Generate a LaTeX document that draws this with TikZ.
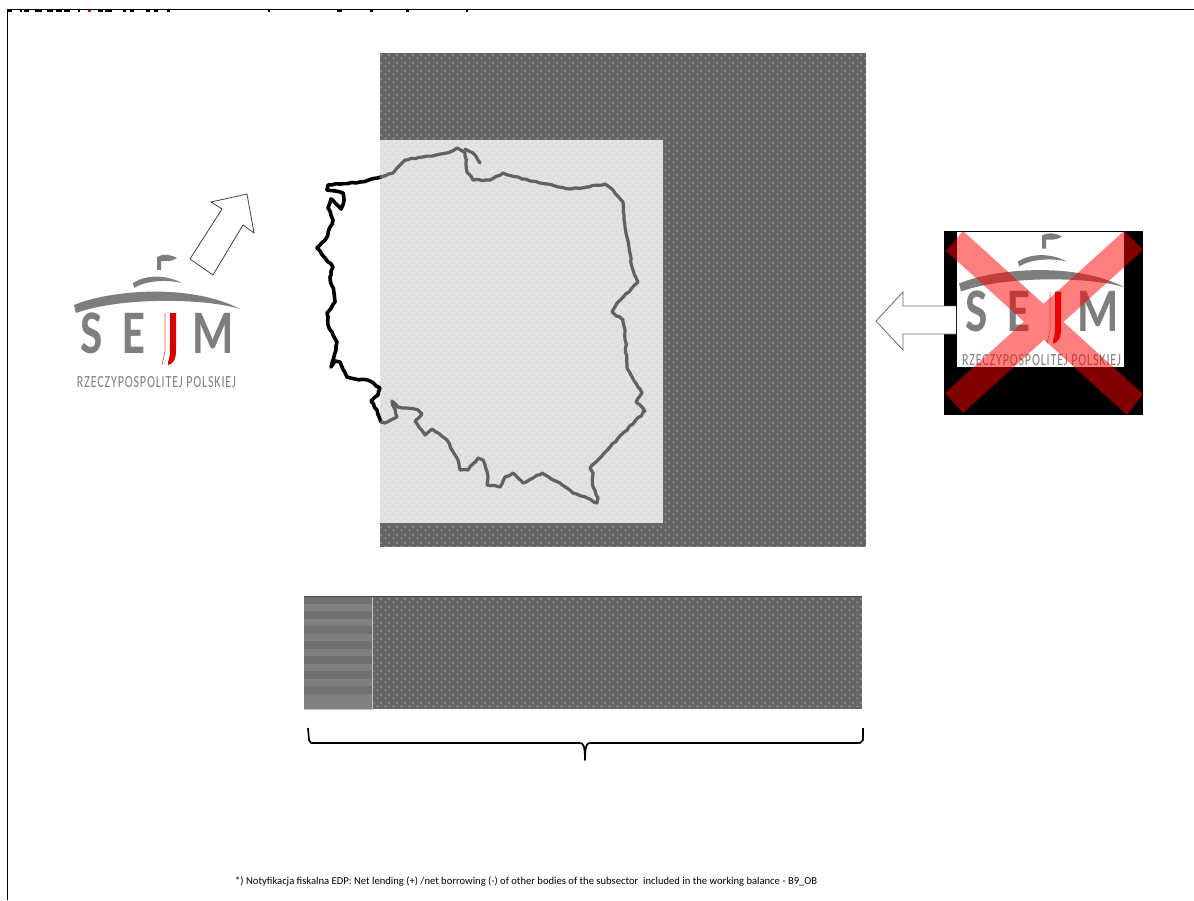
\documentclass[tikz,border=0pt]{standalone}
\usepackage{fontspec}
\usepackage{graphicx}
\setmainfont{Carlito}
\newfontfamily\capfont[LetterSpace=7]{Carlito}
\usetikzlibrary{patterns,decorations.pathmorphing}
\pgfdeclarepatternformonly{sdots}{\pgfqpoint{0pt}{0pt}}{\pgfqpoint{8pt}{8pt}}{\pgfqpoint{8pt}{8pt}}{%
  \pgfpathrectangle{\pgfqpoint{1pt}{1pt}}{\pgfqpoint{1.3pt}{1.3pt}}%
  \pgfpathrectangle{\pgfqpoint{5pt}{5pt}}{\pgfqpoint{1.3pt}{1.3pt}}%
  \pgfusepath{fill}}
\definecolor{dk}{HTML}{666666}
\definecolor{lt}{HTML}{E2E2E2}
\definecolor{logog}{HTML}{7E7E7E}
\pgfmathsetseed{7}
\tikzset{
  darkarea/.style={fill=dk,postaction={pattern=sdots,pattern color=black!28}},
  lightarea/.style={fill=lt,postaction={pattern=sdots,pattern color=black!20}},
  blockarrow/.style={fill=white,draw=black!75,line width=.8pt,line join=miter},
  rough/.style={decorate,decoration={random steps,segment length=4pt,amplitude=.7pt}},
  outlineblack/.style={draw=black,line width=3.6pt,line join=round,line cap=round,rough},
  outlinegray/.style={draw=black!62,line width=3.2pt,line join=round,line cap=round,rough},
  logotext/.style={text=logog,inner sep=0pt,anchor=base,font=\fontsize{62}{62}\selectfont\bfseries},
  framerule/.style={draw=black,line width=1pt},
  bracerule/.style={draw=black,line width=1.7pt,line join=round}
}
\newcommand{\sejmlogo}{%
  \fill[logog] (74,305) .. controls (110,290) and (190,283) .. (240,309) .. controls (205,298) and (120,297) .. (76,313) -- cycle;
  \fill[logog] (133,283) .. controls (145,275) and (165,274) .. (182,283) .. controls (165,279) and (145,281) .. (134,288) -- cycle;
  \fill[logog] (157,257) .. controls (163,253) and (172,255) .. (177,258) .. controls (172,262) and (165,261) .. (161,261) -- (161,270) -- (157,270) -- cycle;
  \node[logotext] (S) at (92,353) {\scalebox{.76}[1]{S}};
  \node[logotext] (E) at (134,353) {\scalebox{.76}[1]{E}};
  \node[logotext] (M) at (213,353) {\scalebox{.76}[1]{M}};
  \fill[red!85!black] (170,313) -- (176,313) -- (176,350) .. controls (176,360) and (173,364) .. (168,365) -- (168,362) .. controls (170,358) and (170,352) .. (170,345) -- cycle;
  \draw[red!70,line width=.7pt] (165,313) -- (165,352) -- (162,365);
  \node[inner sep=0pt,text=logog] (cap) at (156.5,382) {\resizebox{159pt}{11pt}{\capfont RZECZYPOSPOLITEJ POLSKIEJ}};
}
\begin{document}
\begin{tikzpicture}[x=1pt,y=-1pt]
\useasboundingbox (0,0) rectangle (1194,900);
\fill[white] (0,0) rectangle (1194,900);
% clipped heading fragments and frame
\foreach \a/\b in {8/12,20/22,24/29,35/42,47/53,56/62,64/70,78/80,98/103,105/112,123/126,130/134,146/150,154/158,167/170,268/270,337/342,370/373,406/409,466/468}
  \fill[black] (\a,10) rectangle (\b,12);
\fill[red] (88,10) rectangle (91,12);
\draw[framerule] (1194,9.5) -- (7.5,9.5) -- (7.5,900);
% main rectangles
\path[darkarea] (380,53) rectangle (866,547);
\path[lightarea] (380,140) rectangle (663,523);
% outline
\draw[outlineblack] (381,177) -- (360,182) -- (328,185) -- (327,190) -- (343,193) -- (344,200) -- (341,209) -- (331,199) -- (328,208) -- (333,220) -- (327,237) -- (317,248) -- (325,258) -- (333,267) -- (330,277) -- (334,293) -- (335,302) -- (327,313) -- (328,325) -- (337,342) -- (336,350) -- (332,363) -- (331,367) -- (335,361) -- (340,362) -- (347,377) -- (370,381) -- (380,388) -- (378,395) -- (371,401) -- (377,410) -- (381,422);
\draw[outlinegray] (381,422) -- (385,423) -- (397,417) -- (392,401) -- (398,407) -- (418,410) -- (422,414) -- (415,421) -- (425,435) -- (432,429) -- (447,440) -- (457,458) -- (460,470) -- (468,470) -- (478,458) -- (483,460) -- (488,477) -- (487,485) -- (500,487) -- (505,477) -- (513,473) -- (523,483) -- (533,478) -- (542,473) -- (567,488) -- (573,493) -- (587,498) -- (597,503) -- (598,498) -- (593,487) -- (593,473) -- (590,468) -- (610,447) -- (645,411) -- (636,402) -- (642,393) -- (638,387) -- (627,368) -- (625,330) -- (623,320) -- (612,312) -- (617,303) -- (638,282) -- (633,270) -- (625,227) -- (623,202) -- (613,190) -- (605,184) -- (587,187) -- (570,189) -- (547,184) -- (530,181) -- (503,173) -- (490,180) -- (473,180) -- (467,172) -- (465,153) -- (457,148) -- (447,153) -- (423,157) -- (405,160) -- (393,173) -- (381,177);
\draw[outlinegray] (465,149) -- (473,153) -- (480,163);
% left logo and arrow
\sejmlogo
\draw[blockarrow] (247,194) -- (211,202) -- (222,209) -- (190,259) -- (213,275) -- (243,225) -- (254,233) -- cycle;
% right logo
\fill[black] (944,231) rectangle (1143,415);
\fill[white] (957,232) rectangle (1124,367);
\begin{scope}[xshift=885pt,yshift=21.5pt]
\sejmlogo
\end{scope}
\fill[red,opacity=.5] (946,251) -- (963,231) -- (1143,394) -- (1127,415) -- cycle
  (1124,231) -- (1143,250) -- (963,413) -- (945,393) -- cycle;
\fill[white] (956,306) -- (903,306) -- (903,292) -- (876,321) -- (903,350) -- (903,334) -- (956,334) -- cycle;
\draw[draw=black!60,line width=.8pt] (956,306) -- (903,306) -- (903,292) -- (876,321) -- (903,350) -- (903,334) -- (956,334);
% bottom bar
\path[darkarea] (372,596) rectangle (862,709);
\fill[black!50] (304,596) rectangle (372,709);
\foreach \yy in {596,611,...,700}
  \fill[black!56] (304,\yy) rectangle (372,\yy+8);
\draw[black!70,line width=1pt] (304,596.5) -- (862,596.5);
\draw[white!75!black,line width=1pt] (372.5,597) -- (372.5,709.5) -- (304,709.5);
\draw[bracerule] (308,728) -- (309,740) -- (311,743) -- (580,743) .. controls (583,743) and (585,745) .. (585,760) .. controls (585,745) and (587,743) .. (590,743) -- (860,743) -- (863,740) -- (863,728);
% footnote
\node[inner sep=0pt,anchor=west,font=\fontsize{10.6}{11}\selectfont] (note) at (235,882) {*) Notyfikacja fiskalna EDP: Net lending (+) /net borrowing (-) of other bodies of the subsector\ \ included in the working balance - B9\_OB};
\end{tikzpicture}
\end{document}
